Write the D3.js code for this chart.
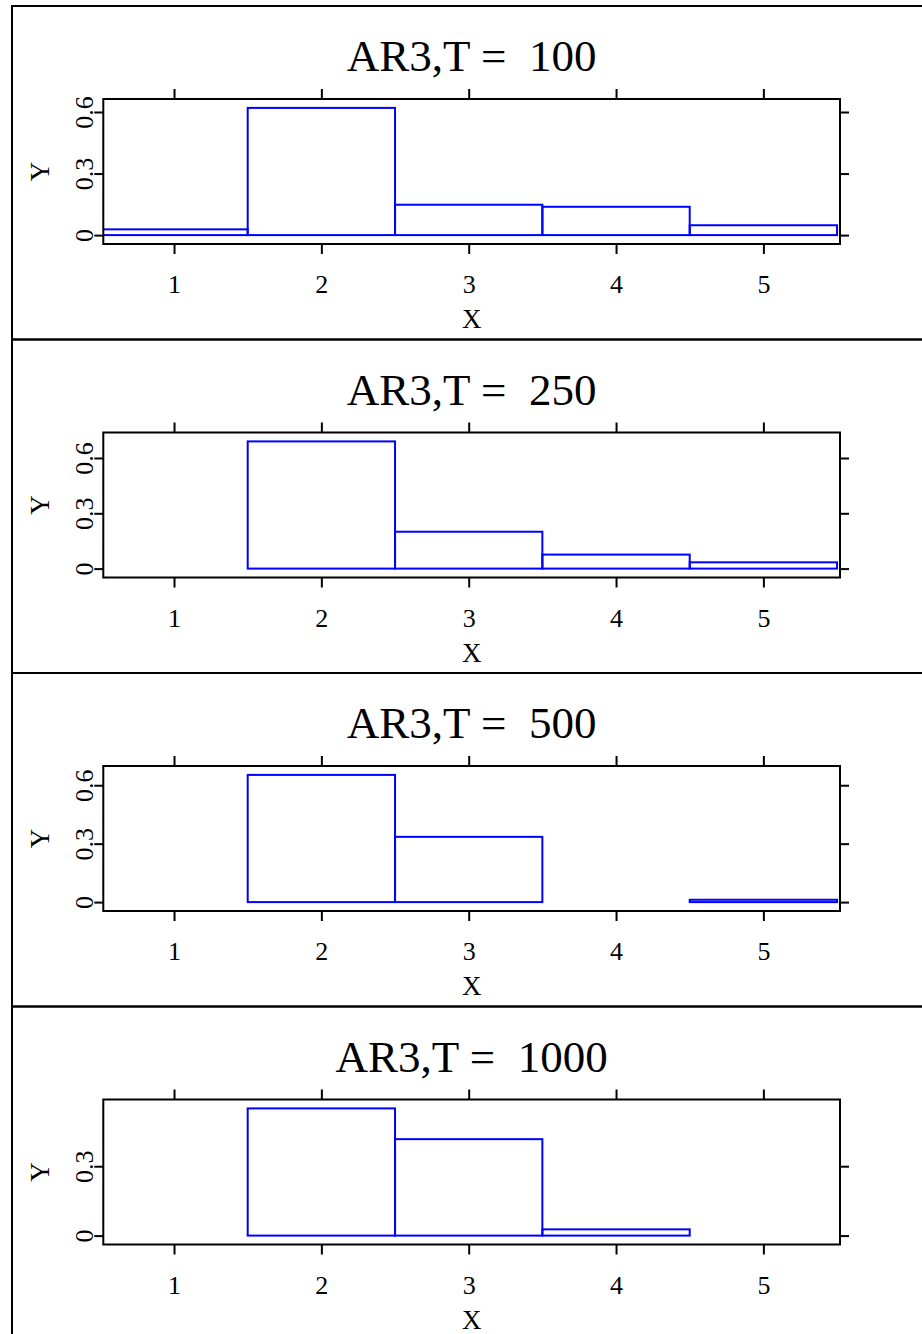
<!DOCTYPE html>
<html>
<head>
<meta charset="utf-8">
<script src="https://cdn.jsdelivr.net/npm/d3@7"></script>
<style>
  body { margin: 0; background: #fff; }
  text { font-family: "Liberation Serif", "DejaVu Serif", serif; fill: #000; }
</style>
</head>
<body>
<div id="my_dataviz"></div>
<script>
// data
var categories = [1, 2, 3, 4, 5];
var sampleSizes = [100, 250, 500, 1000];
var values100 = [0.028, 0.62, 0.148, 0.138, 0.048];
var values250 = [0, 0.69, 0.2, 0.076, 0.034];
var values500 = [0, 0.653, 0.335, 0, 0.012];
var values1000 = [0, 0.55, 0.417, 0.027, 0];
var yTicks = [0, 0.3, 0.6];
var panelValues = [values100, values250, values500, values1000];

var width = 922, height = 1334;
var panelTop = 6, panelStep = 333.5;
var margin = {top: 93, left: 103.3, right: 840};
var plotH = 145;

var svg = d3.select("#my_dataviz")
  .append("svg")
    .attr("width", width)
    .attr("height", height);

// x scale shared by every panel
var x = d3.scaleLinear()
  .domain([0.52, 5.52])
  .range([margin.left, margin.right]);

sampleSizes.forEach(function(T, i) {
  var top = panelTop + i * panelStep;
  var vals = panelValues[i];
  var g = svg.append("g").attr("transform", "translate(0," + top + ")");

  // outer panel frame
  g.append("rect")
    .attr("x", 12).attr("y", 0)
    .attr("width", width + 20).attr("height", panelStep)
    .attr("fill", "none").attr("stroke", "#000").attr("stroke-width", 2);

  var maxV = d3.max(vals);
  var y = d3.scaleLinear()
    .domain([-0.07 * maxV, 1.07 * maxV])
    .range([margin.top + plotH, margin.top]);
  var ticks = yTicks.filter(function(t) { return t <= y.domain()[1]; });

  // title
  g.append("text")
    .attr("x", (margin.left + margin.right) / 2)
    .attr("y", 65)
    .attr("text-anchor", "middle")
    .style("font-size", "45px")
    .style("white-space", "pre")
    .text("AR3,T =  " + T);

  // axes: labels bottom/left, ticks only top/right
  g.append("g")
    .attr("transform", "translate(0," + (margin.top + plotH) + ")")
    .call(d3.axisBottom(x).tickValues(categories).tickSize(10).tickPadding(21).tickFormat(d3.format("d")));
  g.append("g")
    .attr("transform", "translate(0," + margin.top + ")")
    .call(d3.axisTop(x).tickValues(categories).tickSize(10).tickFormat(""));
  var yl = g.append("g")
    .attr("transform", "translate(" + margin.left + ",0)")
    .call(d3.axisLeft(y).tickValues(ticks).tickSize(9).tickFormat(function(d) { return d === 0 ? "0" : d3.format(".1f")(d); }));
  g.append("g")
    .attr("transform", "translate(" + margin.right + ",0)")
    .call(d3.axisRight(y).tickValues(ticks).tickSize(9).tickFormat(""));

  g.selectAll(".domain").remove();
  g.selectAll(".tick line").attr("stroke", "#000").attr("stroke-width", 2);
  g.selectAll(".tick text")
    .style("font-family", "Liberation Serif")
    .style("font-size", "26px")
    .attr("fill", "#000");

  // rotate y tick labels
  yl.selectAll(".tick text")
    .attr("x", null).attr("dy", null)
    .attr("text-anchor", "middle")
    .attr("transform", "translate(-10,0) rotate(-90)");

  // clip bars to the plot frame
  g.append("clipPath").attr("id", "clip" + i)
    .append("rect")
      .attr("x", margin.left).attr("y", margin.top)
      .attr("width", margin.right - margin.left).attr("height", plotH);

  // bars
  var bars = categories.map(function(c, j) { return {c: c, v: vals[j]}; })
    .filter(function(d) { return d.v > 0; });
  g.append("g")
    .attr("clip-path", "url(#clip" + i + ")")
    .selectAll("rect")
    .data(bars)
    .enter()
    .append("rect")
      .attr("x", function(d) { return x(d.c - 0.5); })
      .attr("width", function(d) { return x(d.c + 0.5) - x(d.c - 0.5); })
      .attr("y", function(d) { return y(d.v); })
      .attr("height", function(d) { return y(0) - y(d.v); })
      .attr("fill", "none")
      .attr("stroke", "#0000ff")
      .attr("stroke-width", 2);

  // plot frame
  g.append("rect")
    .attr("x", margin.left).attr("y", margin.top)
    .attr("width", margin.right - margin.left).attr("height", plotH)
    .attr("fill", "none").attr("stroke", "#000").attr("stroke-width", 2);

  // axis labels
  g.append("text")
    .attr("x", (margin.left + margin.right) / 2)
    .attr("y", margin.top + plotH + 84)
    .attr("text-anchor", "middle")
    .style("font-size", "27px")
    .text("X");
  g.append("text")
    .attr("transform", "translate(49," + (margin.top + plotH / 2) + ") rotate(-90)")
    .attr("text-anchor", "middle")
    .style("font-size", "27px")
    .text("Y");
});
</script>
</body>
</html>
